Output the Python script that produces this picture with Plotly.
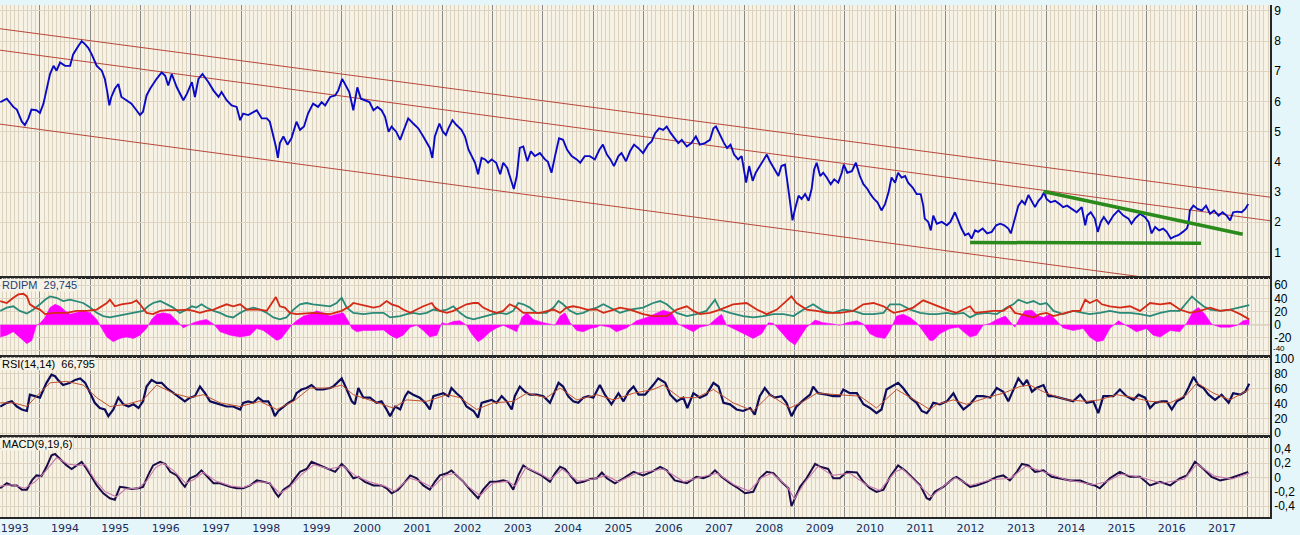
import pandas as pd
import plotly.graph_objects as go

# ---------------------------------------------------------------- data
# 10-year yield (percent), decimal-year positions
MAIN_YEARS = [
    1993.21, 1993.34, 1993.47, 1993.54, 1993.64, 1993.70, 1993.77, 1993.83, 1993.93, 1994.00,
    1994.07, 1994.13, 1994.20, 1994.27, 1994.33, 1994.40, 1994.50, 1994.60, 1994.66, 1994.76,
    1994.83, 1994.90, 1994.96, 1995.03, 1995.13, 1995.23, 1995.29, 1995.34, 1995.38, 1995.42,
    1995.49, 1995.56, 1995.62, 1995.72, 1995.82, 1995.92, 1995.99, 1996.05, 1996.12, 1996.19,
    1996.25, 1996.32, 1996.42, 1996.49, 1996.55, 1996.62, 1996.72, 1996.85, 1996.92, 1997.02,
    1997.08, 1997.15, 1997.23, 1997.35, 1997.45, 1997.55, 1997.61, 1997.71, 1997.81, 1997.91,
    1997.98, 1998.04, 1998.14, 1998.24, 1998.31, 1998.41, 1998.51, 1998.57, 1998.64, 1998.69,
    1998.73, 1998.77, 1998.84, 1998.92, 1999.00, 1999.10, 1999.17, 1999.25, 1999.33, 1999.43,
    1999.53, 1999.60, 1999.67, 1999.77, 1999.87, 1999.93, 2000.01, 2000.08, 2000.15, 2000.23,
    2000.31, 2000.38, 2000.46, 2000.55, 2000.63, 2000.71, 2000.79, 2000.86, 2000.93, 2000.99,
    2001.08, 2001.16, 2001.22, 2001.32, 2001.42, 2001.52, 2001.62, 2001.70, 2001.75, 2001.80,
    2001.85, 2001.94, 2002.01, 2002.07, 2002.12, 2002.20, 2002.28, 2002.38, 2002.45, 2002.52,
    2002.58, 2002.65, 2002.71, 2002.78, 2002.85, 2002.91, 2002.98, 2003.07, 2003.15, 2003.21,
    2003.29, 2003.36, 2003.42, 2003.48, 2003.54, 2003.61, 2003.69, 2003.76, 2003.84, 2003.94,
    2004.04, 2004.10, 2004.17, 2004.24, 2004.32, 2004.40, 2004.48, 2004.57, 2004.67, 2004.74,
    2004.83, 2004.93, 2005.03, 2005.12, 2005.19, 2005.27, 2005.34, 2005.41, 2005.50, 2005.56,
    2005.65, 2005.73, 2005.81, 2005.89, 2005.99, 2006.09, 2006.16, 2006.23, 2006.31, 2006.39,
    2006.46, 2006.54, 2006.62, 2006.69, 2006.76, 2006.86, 2006.95, 2007.04, 2007.12, 2007.22,
    2007.32, 2007.39, 2007.44, 2007.52, 2007.60, 2007.66, 2007.73, 2007.80, 2007.88, 2007.95,
    2008.00, 2008.04, 2008.10, 2008.17, 2008.23, 2008.31, 2008.39, 2008.45, 2008.51, 2008.61,
    2008.68, 2008.74, 2008.81, 2008.86, 2008.91, 2008.96, 2009.01, 2009.08, 2009.14, 2009.21,
    2009.28, 2009.34, 2009.39, 2009.44, 2009.51, 2009.57, 2009.64, 2009.72, 2009.79, 2009.87,
    2009.94, 2009.98, 2010.05, 2010.14, 2010.22, 2010.30, 2010.37, 2010.45, 2010.51, 2010.58,
    2010.65, 2010.73, 2010.80, 2010.87, 2010.93, 2011.00, 2011.06, 2011.13, 2011.20, 2011.26,
    2011.35, 2011.43, 2011.51, 2011.56, 2011.59, 2011.66, 2011.71, 2011.76, 2011.83, 2011.93,
    2012.03, 2012.10, 2012.19, 2012.26, 2012.32, 2012.39, 2012.46, 2012.52, 2012.59, 2012.65,
    2012.74, 2012.83, 2012.92, 2013.01, 2013.09, 2013.17, 2013.25, 2013.30, 2013.38, 2013.45,
    2013.52, 2013.58, 2013.65, 2013.72, 2013.78, 2013.85, 2013.91, 2013.96, 2014.01, 2014.09,
    2014.18, 2014.27, 2014.34, 2014.42, 2014.51, 2014.61, 2014.71, 2014.78, 2014.82, 2014.89,
    2014.97, 2015.03, 2015.09, 2015.15, 2015.24, 2015.34, 2015.44, 2015.54, 2015.64, 2015.70,
    2015.77, 2015.87, 2015.97, 2016.04, 2016.10, 2016.17, 2016.25, 2016.33, 2016.40, 2016.48,
    2016.55, 2016.63, 2016.72, 2016.80, 2016.83, 2016.86, 2016.93, 2017.01, 2017.10, 2017.18,
    2017.26, 2017.34, 2017.43, 2017.51, 2017.59, 2017.66, 2017.72, 2017.80, 2017.89, 2017.96, 2018.02,
]
MAIN_YIELD = [
    5.98, 6.09, 5.82, 5.73, 5.33, 5.22, 5.44, 5.73, 5.71, 5.62,
    5.93, 6.36, 6.91, 7.18, 7.02, 7.29, 7.18, 7.18, 7.56, 7.83,
    8.00, 7.89, 7.78, 7.56, 7.18, 7.02, 6.75, 6.31, 5.87, 6.15,
    6.42, 6.58, 6.15, 6.04, 5.93, 5.71, 5.55, 5.66, 6.20, 6.42,
    6.58, 6.75, 6.96, 6.85, 6.53, 6.91, 6.47, 6.04, 6.25, 6.64,
    6.15, 6.75, 6.91, 6.64, 6.36, 6.15, 6.31, 6.04, 5.87, 5.82,
    5.38, 5.60, 5.55, 5.66, 5.71, 5.44, 5.44, 5.33, 4.89, 4.51,
    4.13, 4.62, 4.84, 4.57, 4.78, 5.33, 5.06, 5.17, 5.60, 5.93,
    5.82, 5.98, 5.87, 6.15, 6.20, 6.36, 6.75, 6.53, 6.31, 5.71,
    6.47, 6.09, 6.04, 5.98, 5.71, 5.82, 5.71, 5.49, 5.00, 5.17,
    5.00, 4.73, 5.00, 5.44, 5.27, 5.11, 4.84, 4.62, 4.46, 4.13,
    4.84, 5.27, 5.00, 4.89, 5.11, 5.38, 5.22, 5.06, 4.84, 4.40,
    4.19, 3.97, 3.59, 4.13, 4.08, 3.97, 4.08, 3.97, 3.59, 3.97,
    3.80, 3.42, 3.10, 3.53, 4.46, 4.51, 4.02, 4.35, 4.19, 4.29,
    4.08, 4.00, 3.64, 4.19, 4.78, 4.73, 4.40, 4.19, 4.08, 3.97,
    4.19, 4.19, 4.08, 4.40, 4.57, 4.24, 4.08, 3.86, 4.19, 4.29,
    4.02, 4.35, 4.57, 4.46, 4.29, 4.57, 4.68, 4.95, 5.11, 5.06,
    5.17, 4.95, 4.78, 4.62, 4.73, 4.51, 4.62, 4.84, 4.57, 4.62,
    4.73, 5.11, 5.17, 4.89, 4.62, 4.46, 4.57, 4.24, 4.08, 4.19,
    3.75, 3.31, 3.86, 3.37, 3.64, 3.86, 4.08, 4.24, 4.02, 3.75,
    3.53, 3.86, 3.91, 3.31, 2.66, 2.06, 2.44, 2.88, 2.77, 2.93,
    2.71, 3.10, 3.75, 3.97, 3.53, 3.64, 3.48, 3.26, 3.42, 3.31,
    3.64, 3.91, 3.64, 3.69, 3.97, 3.53, 3.26, 3.10, 2.93, 2.77,
    2.66, 2.39, 2.60, 2.99, 3.48, 3.31, 3.64, 3.48, 3.53, 3.31,
    3.15, 2.93, 2.93, 2.55, 2.12, 2.01, 1.73, 2.22, 1.95, 2.01,
    1.90, 2.01, 2.33, 2.01, 1.79, 1.57, 1.63, 1.46, 1.73, 1.68,
    1.79, 1.63, 1.68, 1.90, 1.95, 1.90, 1.79, 1.63, 2.12, 2.55,
    2.71, 2.60, 2.90, 2.66, 2.50, 2.71, 2.82, 2.99, 2.77, 2.66,
    2.71, 2.60, 2.50, 2.55, 2.44, 2.33, 2.50, 1.90, 2.22, 2.33,
    2.12, 1.68, 2.01, 2.17, 1.95, 2.22, 2.39, 2.22, 2.12, 1.95,
    2.12, 2.28, 2.17, 2.01, 1.63, 1.84, 1.73, 1.79, 1.68, 1.46,
    1.52, 1.57, 1.68, 1.79, 1.95, 2.39, 2.55, 2.44, 2.39, 2.55,
    2.28, 2.39, 2.22, 2.33, 2.22, 2.06, 2.33, 2.35, 2.33, 2.44, 2.60,
]

# descending channel and breakout trend lines
CHANNEL_YEARS = [1993.205, 2018.453]
CHANNEL_UPPER = [8.41, 2.83]
CHANNEL_MID = [7.70, 2.05]
CHANNEL_LOWER = [5.25, -0.38]
TREND_YEARS = [2013.95, 2017.91]
TREND_VALUES = [3.02, 1.60]
SUPPORT_YEARS = [2012.49, 2017.08]
SUPPORT_VALUES = [1.33, 1.30]

# RDI +/- and their difference
RDI_MINUS_YEARS = [
    1993.21, 1993.34, 1993.47, 1993.57, 1993.67, 1993.74, 1993.80, 1993.90, 1994.00, 1994.10,
    1994.27, 1994.53, 1994.73, 1994.93, 1995.13, 1995.33, 1995.39, 1995.49, 1995.62, 1995.82,
    1995.92, 1995.99, 1996.12, 1996.25, 1996.39, 1996.52, 1996.78, 1996.92, 1997.05, 1997.18,
    1997.31, 1997.45, 1997.58, 1997.71, 1997.84, 1997.98, 1998.11, 1998.37, 1998.51, 1998.61,
    1998.69, 1998.77, 1998.87, 1998.97, 1999.10, 1999.43, 1999.77, 2000.00, 2000.16, 2000.23,
    2000.36, 2000.63, 2000.76, 2000.89, 2000.99, 2001.12, 2001.22, 2001.36, 2001.49, 2001.62,
    2001.79, 2001.85, 2001.95, 2002.09, 2002.22, 2002.35, 2002.48, 2002.62, 2002.71, 2002.81,
    2002.95, 2003.08, 2003.21, 2003.34, 2003.48, 2003.61, 2003.94, 2004.21, 2004.34, 2004.47,
    2004.60, 2004.74, 2004.87, 2005.07, 2005.20, 2005.33, 2005.53, 2005.73, 2005.99, 2006.19,
    2006.46, 2006.66, 2006.86, 2006.99, 2007.12, 2007.32, 2007.52, 2007.78, 2008.05, 2008.25,
    2008.45, 2008.65, 2008.84, 2008.94, 2009.04, 2009.24, 2009.44, 2009.64, 2009.90, 2010.17,
    2010.37, 2010.57, 2010.77, 2010.97, 2011.16, 2011.36, 2011.56, 2011.69, 2011.89, 2012.09,
    2012.22, 2012.36, 2012.49, 2012.59, 2012.95, 2013.15, 2013.28, 2013.38, 2013.48, 2013.62,
    2013.75, 2013.88, 2014.01, 2014.15, 2014.28, 2014.41, 2014.54, 2014.68, 2014.78, 2014.87,
    2015.01, 2015.11, 2015.27, 2015.47, 2015.67, 2015.87, 2016.07, 2016.27, 2016.47, 2016.66,
    2016.86, 2017.06, 2017.26, 2017.46, 2017.66, 2017.86, 2018.04,
]
RDI_MINUS = [
    36, 33, 41, 46, 47, 43, 31, 26, 23, 16,
    18, 18, 21, 21, 23, 33, 38, 28, 31, 33,
    37, 31, 18, 16, 21, 22, 22, 23, 21, 18,
    21, 23, 27, 31, 28, 31, 23, 23, 21, 33,
    42, 28, 26, 18, 16, 18, 16, 21, 28, 33,
    31, 26, 28, 36, 31, 28, 23, 18, 23, 28,
    33, 26, 21, 18, 21, 26, 31, 33, 33, 26,
    21, 18, 21, 31, 26, 18, 18, 23, 18, 26,
    28, 26, 23, 23, 18, 21, 26, 23, 16, 13,
    13, 23, 28, 21, 16, 18, 23, 31, 33, 23,
    16, 23, 36, 43, 33, 23, 21, 18, 18, 21,
    31, 33, 28, 18, 21, 26, 37, 33, 26, 21,
    18, 23, 28, 18, 21, 21, 28, 18, 16, 13,
    11, 16, 18, 13, 16, 18, 21, 21, 38, 33,
    38, 31, 28, 26, 28, 21, 33, 31, 33, 23,
    18, 21, 26, 21, 23, 16, 8,
]
RDI_PLUS_YEARS = [
    1993.21, 1993.34, 1993.47, 1993.60, 1993.74, 1993.87, 1994.00, 1994.10, 1994.20, 1994.33,
    1994.46, 1994.60, 1994.86, 1995.00, 1995.13, 1995.26, 1995.39, 1995.52, 1995.72, 1995.92,
    1996.05, 1996.15, 1996.25, 1996.39, 1996.52, 1996.65, 1996.78, 1996.92, 1997.02, 1997.11,
    1997.21, 1997.31, 1997.45, 1997.58, 1997.71, 1997.84, 1997.98, 1998.11, 1998.24, 1998.37,
    1998.51, 1998.64, 1998.77, 1998.90, 1999.04, 1999.17, 1999.30, 1999.43, 1999.77, 1999.90,
    2000.00, 2000.10, 2000.23, 2000.43, 2000.63, 2000.83, 2000.96, 2001.16, 2001.29, 2001.42,
    2001.55, 2001.69, 2001.82, 2001.95, 2002.09, 2002.22, 2002.35, 2002.48, 2002.62, 2002.75,
    2002.88, 2003.01, 2003.15, 2003.28, 2003.41, 2003.51, 2003.61, 2003.74, 2003.87, 2004.07,
    2004.21, 2004.31, 2004.40, 2004.54, 2004.67, 2004.80, 2004.94, 2005.07, 2005.20, 2005.33,
    2005.53, 2005.73, 2005.99, 2006.19, 2006.33, 2006.46, 2006.66, 2006.86, 2007.05, 2007.25,
    2007.42, 2007.52, 2007.72, 2007.98, 2008.18, 2008.38, 2008.58, 2008.78, 2008.98, 2009.18,
    2009.37, 2009.57, 2009.77, 2009.97, 2010.17, 2010.37, 2010.57, 2010.77, 2010.90, 2011.10,
    2011.30, 2011.50, 2011.69, 2011.83, 2012.03, 2012.16, 2012.36, 2012.49, 2012.62, 2012.82,
    2013.02, 2013.22, 2013.35, 2013.45, 2013.62, 2013.75, 2013.88, 2014.01, 2014.15, 2014.34,
    2014.54, 2014.74, 2014.87, 2015.07, 2015.27, 2015.47, 2015.67, 2015.87, 2016.07, 2016.27,
    2016.47, 2016.66, 2016.80, 2016.90, 2017.00, 2017.13, 2017.26, 2017.46, 2017.66, 2017.86,
    2018.04,
]
RDI_PLUS = [
    21, 26, 28, 21, 17, 23, 31, 38, 43, 41,
    36, 38, 33, 26, 18, 13, 11, 13, 16, 18,
    21, 28, 33, 36, 31, 26, 18, 23, 28, 26,
    31, 26, 21, 18, 13, 11, 18, 23, 26, 23,
    18, 11, 8, 11, 23, 31, 33, 31, 28, 33,
    41, 26, 18, 16, 18, 18, 11, 13, 16, 18,
    16, 18, 23, 21, 23, 28, 18, 11, 8, 11,
    13, 16, 18, 16, 21, 33, 31, 26, 18, 18,
    26, 36, 31, 21, 16, 18, 23, 26, 31, 26,
    18, 23, 26, 33, 36, 31, 18, 13, 16, 21,
    38, 23, 18, 13, 11, 13, 16, 16, 13, 23,
    31, 21, 18, 23, 21, 16, 16, 18, 31, 31,
    23, 18, 16, 16, 18, 16, 18, 11, 16, 18,
    16, 26, 31, 38, 33, 36, 31, 33, 21, 16,
    21, 18, 16, 18, 21, 18, 18, 16, 13, 18,
    21, 21, 33, 43, 36, 28, 23, 21, 23, 26,
    29.745,
]
RDI_DIFF_YEARS = [
    1993.21, 1993.34, 1993.47, 1993.60, 1993.74, 1993.84, 1993.93, 1994.00, 1994.10, 1994.20,
    1994.30, 1994.40, 1994.50, 1994.60, 1994.73, 1994.86, 1995.00, 1995.13, 1995.23, 1995.33,
    1995.46, 1995.59, 1995.72, 1995.86, 1995.99, 1996.12, 1996.22, 1996.32, 1996.45, 1996.59,
    1996.72, 1996.85, 1996.95, 1997.05, 1997.18, 1997.31, 1997.45, 1997.58, 1997.78, 1997.98,
    1998.18, 1998.31, 1998.44, 1998.57, 1998.71, 1998.80, 1998.90, 1999.00, 1999.10, 1999.24,
    1999.37, 1999.50, 1999.63, 1999.77, 1999.90, 2000.03, 2000.13, 2000.20, 2000.30, 2000.43,
    2000.63, 2000.83, 2000.96, 2001.09, 2001.22, 2001.36, 2001.49, 2001.62, 2001.75, 2001.89,
    2001.99, 2002.09, 2002.22, 2002.35, 2002.48, 2002.58, 2002.71, 2002.81, 2002.95, 2003.08,
    2003.21, 2003.34, 2003.48, 2003.58, 2003.68, 2003.81, 2004.01, 2004.14, 2004.24, 2004.34,
    2004.44, 2004.54, 2004.67, 2004.80, 2004.94, 2005.07, 2005.13, 2005.33, 2005.46, 2005.66,
    2005.86, 2006.06, 2006.26, 2006.39, 2006.56, 2006.69, 2006.86, 2006.99, 2007.12, 2007.29,
    2007.42, 2007.55, 2007.65, 2007.78, 2007.98, 2008.18, 2008.35, 2008.48, 2008.58, 2008.71,
    2008.88, 2009.01, 2009.11, 2009.24, 2009.41, 2009.57, 2009.77, 2009.90, 2010.04, 2010.24,
    2010.37, 2010.50, 2010.63, 2010.80, 2010.90, 2011.03, 2011.16, 2011.30, 2011.43, 2011.56,
    2011.69, 2011.76, 2011.89, 2012.09, 2012.26, 2012.36, 2012.49, 2012.62, 2012.75, 2012.89,
    2013.02, 2013.19, 2013.32, 2013.38, 2013.48, 2013.58, 2013.72, 2013.85, 2013.95, 2014.08,
    2014.21, 2014.34, 2014.54, 2014.74, 2014.87, 2015.01, 2015.14, 2015.27, 2015.44, 2015.60,
    2015.80, 2016.00, 2016.13, 2016.27, 2016.47, 2016.66, 2016.80, 2016.93, 2017.03, 2017.16,
    2017.29, 2017.46, 2017.66, 2017.80, 2017.92, 2018.04,
]
RDI_DIFF = [
    -19, -16, -11, -19, -29, -24, -1, 2, 11, 26,
    31, 28, 21, 16, 18, 21, 18, 8, -6, -19,
    -26, -21, -19, -21, -16, -6, 8, 16, 18, 16,
    6, -5, -1, 3, 6, 8, 1, -11, -16, -19,
    -16, -6, -9, -16, -24, -21, -11, -1, 6, 13,
    16, 21, 18, 13, 16, 18, 6, -6, -11, -9,
    -9, -8, -16, -21, -16, -4, -1, -9, -19, -16,
    3, 1, 5, 6, -1, -14, -26, -21, -11, -5,
    -1, -6, -11, 11, 18, 8, 3, 1, -1, 13,
    18, 3, -9, -11, -6, -4, -1, -4, -11, -5,
    6, 11, 18, 22, 18, 1, -6, -11, -4, -1,
    8, 16, -1, -6, -14, -21, -14, 3, 2, -9,
    -24, -31, -19, -4, 7, 3, 1, -1, 3, 6,
    1, -14, -19, -21, -9, 13, 16, 11, 3, -11,
    -24, -24, -14, -6, -4, -11, -19, -16, -1, 2,
    8, 13, 1, -4, 11, 21, 22, 13, 11, 16,
    6, -5, -9, -6, -19, -26, -24, -6, 6, -1,
    -11, -6, -16, -19, -9, -11, 3, 21, 26, 16,
    1, -4, -4, -1, 6, 8,
]

# RSI(14) and its 14-period average
RSI_YEARS = [
    1993.21, 1993.34, 1993.44, 1993.54, 1993.64, 1993.74, 1993.80, 1993.90, 1994.00, 1994.07,
    1994.13, 1994.23, 1994.30, 1994.36, 1994.46, 1994.60, 1994.70, 1994.80, 1994.90, 1995.00,
    1995.09, 1995.19, 1995.29, 1995.36, 1995.46, 1995.56, 1995.66, 1995.76, 1995.86, 1995.96,
    1996.05, 1996.12, 1996.22, 1996.32, 1996.42, 1996.52, 1996.65, 1996.78, 1996.88, 1996.98,
    1997.08, 1997.18, 1997.28, 1997.38, 1997.48, 1997.58, 1997.71, 1997.84, 1997.98, 1998.04,
    1998.14, 1998.24, 1998.34, 1998.44, 1998.54, 1998.61, 1998.67, 1998.74, 1998.84, 1998.94,
    1999.04, 1999.10, 1999.20, 1999.30, 1999.40, 1999.50, 1999.63, 1999.77, 1999.83, 2000.00,
    2000.10, 2000.20, 2000.26, 2000.33, 2000.43, 2000.56, 2000.69, 2000.79, 2000.89, 2000.96,
    2001.06, 2001.16, 2001.26, 2001.32, 2001.42, 2001.55, 2001.66, 2001.75, 2001.82, 2001.92,
    2002.02, 2002.12, 2002.18, 2002.28, 2002.38, 2002.48, 2002.62, 2002.71, 2002.78, 2002.88,
    2002.98, 2003.08, 2003.18, 2003.28, 2003.38, 2003.44, 2003.54, 2003.64, 2003.74, 2003.87,
    2004.01, 2004.14, 2004.24, 2004.31, 2004.40, 2004.50, 2004.60, 2004.70, 2004.80, 2004.90,
    2005.00, 2005.13, 2005.23, 2005.36, 2005.50, 2005.60, 2005.70, 2005.80, 2005.90, 2006.03,
    2006.19, 2006.29, 2006.43, 2006.53, 2006.66, 2006.79, 2006.87, 2006.99, 2007.12, 2007.25,
    2007.39, 2007.49, 2007.59, 2007.72, 2007.85, 2007.98, 2008.12, 2008.21, 2008.31, 2008.41,
    2008.51, 2008.61, 2008.74, 2008.84, 2008.94, 2009.04, 2009.18, 2009.31, 2009.37, 2009.47,
    2009.64, 2009.77, 2009.90, 2009.97, 2010.10, 2010.24, 2010.37, 2010.50, 2010.63, 2010.73,
    2010.83, 2010.97, 2011.06, 2011.16, 2011.30, 2011.43, 2011.53, 2011.63, 2011.69, 2011.76,
    2011.89, 2012.03, 2012.16, 2012.26, 2012.36, 2012.49, 2012.62, 2012.75, 2012.89, 2013.02,
    2013.15, 2013.25, 2013.35, 2013.45, 2013.55, 2013.62, 2013.72, 2013.81, 2013.95, 2014.05,
    2014.15, 2014.28, 2014.41, 2014.54, 2014.68, 2014.81, 2014.94, 2015.04, 2015.14, 2015.34,
    2015.47, 2015.60, 2015.74, 2015.84, 2015.97, 2016.07, 2016.17, 2016.30, 2016.40, 2016.50,
    2016.60, 2016.73, 2016.83, 2016.93, 2017.03, 2017.13, 2017.23, 2017.36, 2017.49, 2017.63,
    2017.72, 2017.86, 2017.96, 2018.04,
]
RSI = [
    36, 41, 43, 36, 32, 30, 52, 50, 48, 59,
    68, 79, 77, 72, 65, 68, 72, 74, 68, 54,
    41, 34, 32, 23, 32, 48, 39, 36, 39, 34,
    43, 63, 72, 68, 68, 61, 54, 48, 43, 48,
    50, 63, 54, 43, 41, 39, 36, 36, 32, 41,
    43, 41, 48, 43, 43, 34, 23, 30, 36, 41,
    45, 54, 59, 61, 65, 59, 59, 61, 63, 74,
    59, 43, 39, 61, 48, 48, 41, 43, 32, 23,
    36, 32, 50, 56, 52, 48, 41, 32, 50, 52,
    54, 50, 61, 54, 48, 36, 30, 21, 41, 43,
    45, 41, 50, 43, 32, 50, 63, 56, 52, 52,
    50, 41, 56, 68, 63, 50, 43, 41, 48, 50,
    48, 65, 52, 39, 54, 43, 56, 63, 52, 52,
    65, 74, 68, 52, 43, 48, 34, 54, 48, 52,
    68, 63, 41, 39, 32, 30, 34, 25, 50, 61,
    52, 48, 50, 41, 23, 36, 45, 52, 63, 54,
    52, 50, 50, 59, 54, 54, 39, 34, 27, 32,
    59, 65, 68, 61, 48, 41, 30, 27, 32, 41,
    39, 43, 54, 41, 32, 39, 50, 50, 48, 61,
    56, 43, 59, 74, 65, 72, 56, 61, 65, 50,
    50, 48, 45, 43, 52, 41, 43, 27, 50, 50,
    59, 50, 45, 52, 48, 34, 41, 43, 43, 32,
    43, 48, 61, 76, 65, 61, 52, 45, 52, 41,
    54, 52, 56, 66.795,
]
RSI_SIGNAL_YEARS = [
    1993.21, 1993.47, 1993.74, 1993.93, 1994.20, 1994.53, 1994.86, 1995.13, 1995.39, 1995.72,
    1996.05, 1996.32, 1996.65, 1996.98, 1997.25, 1997.58, 1997.98, 1998.37, 1998.71, 1999.04,
    1999.37, 1999.77, 2000.00, 2000.23, 2000.63, 2001.02, 2001.29, 2001.69, 2002.09, 2002.35,
    2002.68, 2003.01, 2003.41, 2003.68, 2004.07, 2004.34, 2004.67, 2005.07, 2005.40, 2005.80,
    2006.19, 2006.39, 2006.72, 2007.05, 2007.39, 2007.78, 2008.18, 2008.51, 2008.91, 2009.18,
    2009.44, 2009.90, 2010.30, 2010.63, 2011.03, 2011.43, 2011.69, 2011.83, 2012.16, 2012.42,
    2012.82, 2013.15, 2013.48, 2013.68, 2014.01, 2014.41, 2014.81, 2015.07, 2015.41, 2015.74,
    2016.07, 2016.47, 2016.80, 2017.00, 2017.33, 2017.66, 2018.04,
]
RSI_SIGNAL = [
    41, 41, 36, 50, 68, 70, 65, 48, 36, 39,
    45, 65, 54, 48, 52, 41, 36, 43, 32, 43,
    61, 61, 65, 52, 43, 34, 45, 43, 52, 48,
    32, 41, 43, 54, 48, 61, 45, 52, 45, 54,
    59, 65, 48, 48, 59, 41, 30, 52, 34, 43,
    54, 52, 50, 34, 59, 43, 32, 39, 45, 39,
    48, 54, 63, 65, 54, 45, 43, 45, 52, 48,
    43, 41, 52, 68, 54, 45, 59,
]

# MACD(9,19) and its 6-period signal
MACD_YEARS = [
    1993.21, 1993.34, 1993.44, 1993.54, 1993.64, 1993.74, 1993.84, 1993.93, 1994.03, 1994.13,
    1994.23, 1994.30, 1994.40, 1994.53, 1994.63, 1994.73, 1994.83, 1994.93, 1995.03, 1995.13,
    1995.26, 1995.39, 1995.49, 1995.59, 1995.69, 1995.82, 1995.96, 1996.05, 1996.15, 1996.25,
    1996.39, 1996.49, 1996.59, 1996.72, 1996.82, 1996.88, 1996.98, 1997.11, 1997.21, 1997.31,
    1997.45, 1997.58, 1997.78, 1997.91, 1998.04, 1998.18, 1998.31, 1998.44, 1998.57, 1998.67,
    1998.74, 1998.84, 1998.97, 1999.07, 1999.17, 1999.30, 1999.40, 1999.50, 1999.63, 1999.77,
    1999.87, 2000.00, 2000.10, 2000.23, 2000.33, 2000.46, 2000.63, 2000.79, 2000.89, 2000.99,
    2001.12, 2001.26, 2001.36, 2001.49, 2001.62, 2001.75, 2001.85, 2001.95, 2002.09, 2002.18,
    2002.28, 2002.42, 2002.55, 2002.65, 2002.71, 2002.81, 2002.95, 2003.08, 2003.21, 2003.31,
    2003.41, 2003.51, 2003.61, 2003.71, 2003.84, 2003.97, 2004.14, 2004.24, 2004.34, 2004.44,
    2004.54, 2004.67, 2004.80, 2004.94, 2005.07, 2005.17, 2005.27, 2005.43, 2005.60, 2005.80,
    2005.99, 2006.16, 2006.33, 2006.46, 2006.62, 2006.86, 2007.05, 2007.19, 2007.32, 2007.42,
    2007.55, 2007.72, 2007.88, 2008.02, 2008.18, 2008.31, 2008.45, 2008.58, 2008.74, 2008.88,
    2008.94, 2009.01, 2009.11, 2009.24, 2009.41, 2009.51, 2009.67, 2009.77, 2009.90, 2010.04,
    2010.24, 2010.37, 2010.50, 2010.63, 2010.77, 2010.90, 2011.06, 2011.20, 2011.36, 2011.50,
    2011.63, 2011.69, 2011.79, 2011.96, 2012.16, 2012.22, 2012.36, 2012.49, 2012.62, 2012.82,
    2013.02, 2013.15, 2013.28, 2013.42, 2013.52, 2013.65, 2013.78, 2013.95, 2014.11, 2014.28,
    2014.48, 2014.68, 2014.81, 2014.97, 2015.07, 2015.17, 2015.27, 2015.47, 2015.67, 2015.87,
    2016.07, 2016.27, 2016.47, 2016.66, 2016.80, 2016.96, 2017.13, 2017.29, 2017.46, 2017.66,
    2017.82, 2018.02,
]
MACD = [
    -0.15, -0.08, -0.11, -0.11, -0.17, -0.17, -0.04, 0.03, 0.02, 0.15,
    0.31, 0.33, 0.26, 0.17, 0.12, 0.17, 0.22, 0.12, 0.01, -0.11,
    -0.22, -0.29, -0.31, -0.13, -0.14, -0.16, -0.15, -0.13, 0.03, 0.17,
    0.22, 0.19, 0.08, 0.03, -0.08, -0.13, -0.01, 0.03, 0.10, 0.03,
    -0.08, -0.08, -0.13, -0.15, -0.15, -0.11, -0.04, -0.06, -0.08, -0.20,
    -0.27, -0.17, -0.11, -0.01, 0.08, 0.12, 0.22, 0.19, 0.15, 0.10,
    0.08, 0.19, 0.12, -0.01, 0.01, -0.06, -0.11, -0.11, -0.15, -0.22,
    -0.17, -0.06, 0.03, -0.01, -0.11, -0.17, -0.06, 0.03, 0.06, 0.10,
    0.03, -0.06, -0.17, -0.24, -0.29, -0.17, -0.06, -0.06, -0.04, -0.06,
    -0.17, 0.03, 0.17, 0.12, 0.08, 0.03, -0.06, 0.06, 0.15, 0.12,
    0.03, -0.08, -0.06, -0.02, -0.01, 0.07, -0.01, -0.08, -0.01, 0.08,
    0.03, 0.08, 0.15, 0.10, -0.04, -0.08, 0.01, -0.01, 0.03, 0.10,
    0.01, -0.08, -0.15, -0.22, -0.20, -0.01, 0.08, 0.06, -0.06, -0.15,
    -0.40, -0.29, -0.13, -0.01, 0.19, 0.15, 0.12, -0.01, -0.01, 0.08,
    0.07, -0.06, -0.15, -0.20, -0.17, 0.01, 0.17, 0.10, -0.01, -0.11,
    -0.29, -0.31, -0.20, -0.13, -0.01, 0.01, -0.06, -0.13, -0.11, -0.06,
    0.01, 0.03, -0.04, 0.08, 0.19, 0.17, 0.08, 0.10, 0.01, -0.01,
    -0.04, -0.04, -0.08, -0.11, -0.15, -0.08, -0.01, 0.08, 0.01, 0.01,
    -0.11, -0.06, -0.11, -0.01, 0.03, 0.22, 0.12, 0.01, -0.04, -0.01,
    0.03, 0.08,
]
MACD_SIGNAL_YEARS = [
    1993.21, 1993.45, 1993.70, 1993.90, 1994.10, 1994.33, 1994.55, 1994.75, 1994.90, 1995.10,
    1995.30, 1995.52, 1995.70, 1995.95, 1996.12, 1996.30, 1996.45, 1996.65, 1996.90, 1997.05,
    1997.25, 1997.50, 1997.80, 1998.05, 1998.35, 1998.55, 1998.77, 1998.95, 1999.20, 1999.45,
    1999.75, 2000.03, 2000.28, 2000.55, 2000.85, 2001.05, 2001.35, 2001.55, 2001.80, 2002.05,
    2002.25, 2002.50, 2002.75, 2003.00, 2003.30, 2003.45, 2003.66, 2003.95, 2004.15, 2004.38,
    2004.70, 2005.00, 2005.25, 2005.50, 2005.85, 2006.40, 2006.80, 2007.10, 2007.47, 2007.80,
    2008.10, 2008.35, 2008.55, 2008.85, 2009.00, 2009.20, 2009.47, 2009.75, 2010.10, 2010.45,
    2010.70, 2011.00, 2011.15, 2011.45, 2011.72, 2012.00, 2012.20, 2012.50, 2012.90, 2013.30,
    2013.60, 2013.95, 2014.40, 2014.95, 2015.20, 2015.50, 2015.90, 2016.30, 2016.75, 2017.00,
    2017.35, 2017.70, 2018.04,
]
MACD_SIGNAL = [
    -0.12, -0.10, -0.15, -0.06, 0.08, 0.28, 0.19, 0.17, 0.18, -0.04,
    -0.20, -0.27, -0.16, -0.15, -0.05, 0.14, 0.20, 0.10, -0.08, -0.03,
    0.07, -0.05, -0.12, -0.14, -0.06, -0.07, -0.22, -0.14, 0.04, 0.18,
    0.12, 0.16, 0.02, -0.06, -0.12, -0.19, -0.01, -0.05, -0.14, 0.03,
    0.06, -0.12, -0.25, -0.08, -0.05, -0.12, 0.14, 0.05, -0.03, 0.12,
    -0.05, -0.02, 0.03, -0.06, 0.06, 0.12, -0.06, 0.00, 0.06, -0.10,
    -0.19, 0.00, 0.06, -0.12, -0.30, -0.07, 0.16, 0.03, 0.06, -0.11,
    -0.18, 0.08, 0.12, -0.08, -0.27, -0.10, 0.00, -0.11, -0.03, -0.01,
    0.16, 0.08, -0.03, -0.10, -0.06, 0.05, 0.00, -0.08, -0.02, 0.19,
    0.02, -0.02, 0.06,
]

# axis ticks
PRICE_TICKS = [1, 2, 3, 4, 5, 6, 7, 8, 9]
RDI_TICKS = [-40, -20, 0, 20, 40, 60]
RSI_TICKS = [0, 20, 40, 60, 80, 100]
MACD_TICKS = [-0.4, -0.2, 0.0, 0.2, 0.4]

X_START, X_END = 1993.205, 2018.453


# ---------------------------------------------------------------- helpers
def to_date(y):
    yr = int(y // 1)
    start = pd.Timestamp(yr, 1, 1)
    end = pd.Timestamp(yr + 1, 1, 1)
    return start + (end - start) * (y - yr)


def dates(years):
    return [to_date(y) for y in years]


def fmt(v):
    s = f"{v:.1f}".rstrip("0").rstrip(".")
    return s.replace(".", ",")


# ---------------------------------------------------------------- figure
W, H = 1300, 535
M_L, M_R, M_T, M_B = 0, 30, 0, 16
PH = H - M_T - M_B  # plot height in px


def dom(top_px, bottom_px):
    return [1 - bottom_px / PH, 1 - top_px / PH]


BG = "#F6F2E6"
PAPER = "#E4F6FA"
MINOR_GRID = "#DBD1BD"
YEAR_GRID = "#8A8A8A"
H_GRID = "#DDD3C0"
FRAME = "#262626"
TICK_FONT = dict(family="Liberation Sans, Arial, sans-serif", size=12, color="#000000")

fig = go.Figure()

# price panel
for ys in (CHANNEL_UPPER, CHANNEL_MID, CHANNEL_LOWER):
    fig.add_trace(go.Scatter(x=dates(CHANNEL_YEARS), y=ys, mode="lines",
                             line=dict(color="#B9473A", width=1), xaxis="x", yaxis="y"))
fig.add_trace(go.Scatter(x=dates(MAIN_YEARS), y=MAIN_YIELD, mode="lines",
                         line=dict(color="#0A0AC4", width=1.9), xaxis="x", yaxis="y"))
fig.add_trace(go.Scatter(x=dates(TREND_YEARS), y=TREND_VALUES, mode="lines",
                         line=dict(color="#2B8A1C", width=3.5), xaxis="x", yaxis="y"))
fig.add_trace(go.Scatter(x=dates(SUPPORT_YEARS), y=SUPPORT_VALUES, mode="lines",
                         line=dict(color="#2B8A1C", width=3.5), xaxis="x", yaxis="y"))

# RDI panel
fig.add_trace(go.Scatter(x=dates(RDI_DIFF_YEARS), y=RDI_DIFF, mode="lines", fill="tozeroy",
                         fillcolor="#FF00FF", line=dict(color="#FF00FF", width=0.5),
                         xaxis="x2", yaxis="y2"))
fig.add_trace(go.Scatter(x=dates(RDI_PLUS_YEARS), y=RDI_PLUS, mode="lines",
                         line=dict(color="#2A8A78", width=1.8), xaxis="x2", yaxis="y2"))
fig.add_trace(go.Scatter(x=dates(RDI_MINUS_YEARS), y=RDI_MINUS, mode="lines",
                         line=dict(color="#D42A16", width=1.8), xaxis="x2", yaxis="y2"))

# RSI panel
fig.add_trace(go.Scatter(x=dates(RSI_YEARS), y=RSI, mode="lines",
                         line=dict(color="#0C0C5A", width=2.2), xaxis="x3", yaxis="y3"))
fig.add_trace(go.Scatter(x=dates(RSI_SIGNAL_YEARS), y=RSI_SIGNAL, mode="lines",
                         line=dict(color="#C4502E", width=1), xaxis="x3", yaxis="y3"))

# MACD panel
fig.add_trace(go.Scatter(x=dates(MACD_YEARS), y=MACD, mode="lines",
                         line=dict(color="#1C0C48", width=2), xaxis="x4", yaxis="y4"))
fig.add_trace(go.Scatter(x=dates(MACD_SIGNAL_YEARS), y=MACD_SIGNAL, mode="lines",
                         line=dict(color="#C878A8", width=1.1), xaxis="x4", yaxis="y4"))

x_common = dict(
    type="date",
    range=[to_date(X_START), to_date(X_END)],
    tick0="1993-01-01",
    dtick="M12",
    showgrid=True,
    gridcolor=YEAR_GRID,
    gridwidth=1,
    minor=dict(dtick="M1", showgrid=True, gridcolor=MINOR_GRID, gridwidth=1, ticks=""),
    ticks="",
    showline=True,
    linecolor=FRAME,
    linewidth=1.5,
    zeroline=False,
)
y_common = dict(
    side="right",
    showgrid=True,
    gridcolor=H_GRID,
    gridwidth=1,
    ticks="",
    showline=True,
    linecolor=FRAME,
    linewidth=1.5,
    mirror=False,
    tickfont=TICK_FONT,
    zeroline=False,
    tickmode="array",
)

# the lowest RDI label is drawn separately and small, squeezed between its
# neighbour above and the RSI panel's top label
rdi_text = [str(v) for v in RDI_TICKS]
rdi_text[0] = ""

layout = dict(
    width=W, height=H,
    margin=dict(l=M_L, r=M_R, t=M_T, b=M_B, pad=0),
    paper_bgcolor=PAPER,
    plot_bgcolor=BG,
    showlegend=False,
    hovermode=False,
    xaxis=dict(x_common, anchor="y", showticklabels=False, mirror=False),
    xaxis2=dict(x_common, anchor="y2", matches="x", showticklabels=False, mirror=True),
    xaxis3=dict(x_common, anchor="y3", matches="x", showticklabels=False, mirror=True),
    xaxis4=dict(x_common, anchor="y4", matches="x", showticklabels=True, mirror=True,
                ticklabelmode="period", tickformat="%Y",
                tickfont=dict(family="DejaVu Sans, sans-serif", size=11, color="#1C2A5A")),
    yaxis=dict(y_common, anchor="x", domain=dom(0, 276), range=[0.176, 9.196],
               tickvals=PRICE_TICKS, ticktext=[str(v) for v in PRICE_TICKS]),
    yaxis2=dict(y_common, anchor="x2", domain=dom(277, 356), range=[-48.1, 70.7],
                tickvals=RDI_TICKS, ticktext=rdi_text),
    yaxis3=dict(y_common, anchor="x3", domain=dom(357, 437), range=[-4.0, 102.7],
                tickvals=RSI_TICKS, ticktext=[str(v) for v in RSI_TICKS]),
    yaxis4=dict(y_common, anchor="x4", domain=dom(438, PH), range=[-0.552, 0.566],
                tickvals=MACD_TICKS, ticktext=[fmt(v) for v in MACD_TICKS]),
)
fig.update_layout(**layout)

fig.add_annotation(text=str(RDI_TICKS[0]), xref="paper", yref="y2", x=1, y=RDI_TICKS[0],
                   xanchor="left", yanchor="middle", xshift=2, yshift=2.5, showarrow=False,
                   font=dict(TICK_FONT, size=8), borderpad=0)

# zero references in the oscillator panels
fig.add_shape(type="line", xref="x2 domain", yref="y2", x0=0, x1=1, y0=0, y1=0,
              line=dict(color="#5A5A5A", width=1), layer="below")
fig.add_shape(type="line", xref="x4 domain", yref="y4", x0=0, x1=1, y0=0, y1=0,
              line=dict(color="#4A4A4A", width=1, dash="dash"), layer="below")

# panel captions
label_font = dict(family="Liberation Sans, Arial, sans-serif", size=11)
captions = [
    (f"RDIPM\u00a0\u00a0{RDI_PLUS[-1]:.3f}".replace(".", ","), dom(277, 356)[1], "#1F3F72"),
    (f"RSI(14,14)\u00a0\u00a0{RSI[-1]:.3f}".replace(".", ","), dom(357, 437)[1], "#000000"),
    ("MACD(9,19,6)", dom(438, PH)[1], "#000000"),
]
for text, ytop, color in captions:
    fig.add_annotation(text=text, xref="paper", yref="paper", x=0.001, y=ytop,
                       xanchor="left", yanchor="top", showarrow=False,
                       font=dict(label_font, color=color), bgcolor=BG, borderpad=0)

fig.write_html("out.html")
